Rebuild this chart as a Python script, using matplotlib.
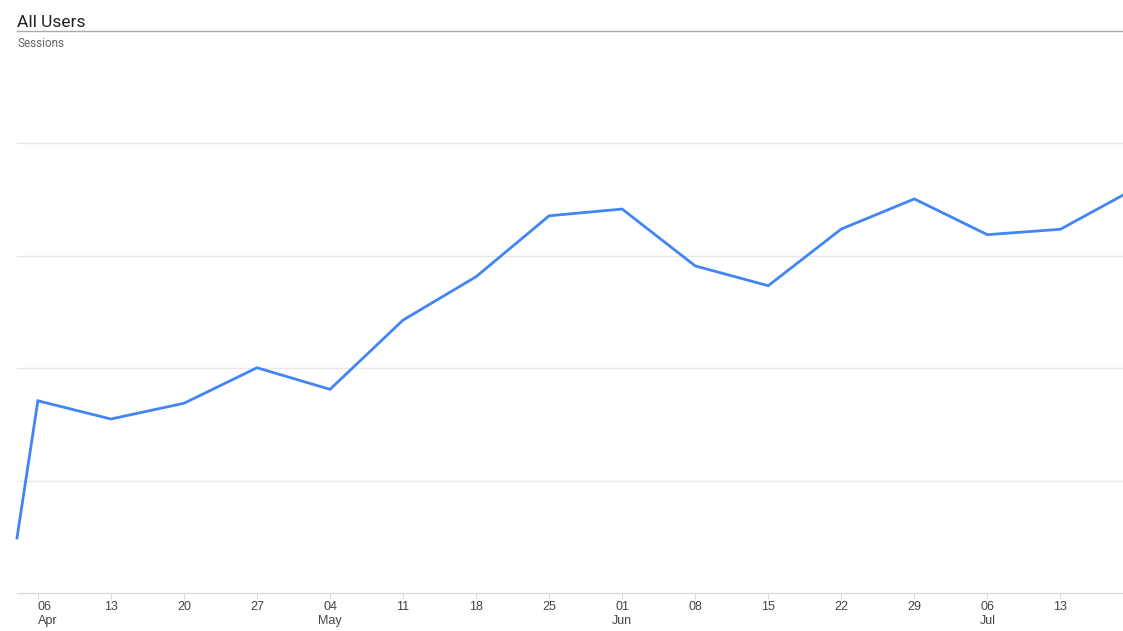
import matplotlib
matplotlib.use("Agg")
import matplotlib.pyplot as plt
import datetime as dt

dates = ["2014-04-04", "2014-04-06", "2014-04-13", "2014-04-20", "2014-04-27",
         "2014-05-04", "2014-05-11", "2014-05-18", "2014-05-25", "2014-06-01",
         "2014-06-08", "2014-06-15", "2014-06-22", "2014-06-29", "2014-07-06",
         "2014-07-13", "2014-07-19"]
sessions = [24.5, 85.5, 77.4, 84.4, 100.2, 90.6, 121.4, 140.7, 167.8, 170.8,
            145.5, 136.7, 161.9, 175.3, 159.4, 161.8, 177.0]
tick_dates = ["2014-04-06", "2014-04-13", "2014-04-20", "2014-04-27", "2014-05-04",
              "2014-05-11", "2014-05-18", "2014-05-25", "2014-06-01", "2014-06-08",
              "2014-06-15", "2014-06-22", "2014-06-29", "2014-07-06", "2014-07-13"]
tick_labels = ["06\nApr", "13", "20", "27", "04\nMay", "11", "18", "25", "01\nJun",
               "08", "15", "22", "29", "06\nJul", "13"]
title = "All Users"
metric = "Sessions"

plt.rcParams['font.family'] = ['Roboto', 'DejaVu Sans']

W, H = 1123, 631
fig = plt.figure(figsize=(W / 100, H / 100), dpi=100)
left, right, top, bottom = 17, 1123, 31, 593
ax = fig.add_axes([left / W, 1 - bottom / H, (right - left) / W, (bottom - top) / H])

x = [dt.datetime.strptime(d, "%Y-%m-%d") for d in dates]
xt = [dt.datetime.strptime(d, "%Y-%m-%d") for d in tick_dates]

ax.plot(x, sessions, color="#4285f4", lw=2, solid_joinstyle="miter", clip_on=False, zorder=3)
ax.set_xlim(x[0], x[-1])
ax.set_ylim(0, 250)
ax.set_yticks([50, 100, 150, 200])
ax.set_yticklabels([])
ax.tick_params(axis="y", length=0)
ax.grid(axis="y", color="#e8e8e8", lw=1)
ax.set_axisbelow(True)

ax.set_xticks(xt)
ax.set_xticklabels(tick_labels, fontsize=9, color="#444444", linespacing=1.15,
                   family=["Liberation Sans", "DejaVu Sans"])
ax.tick_params(axis="x", length=4, color="#dddddd", pad=2)
for i, lab in enumerate(ax.get_xticklabels()):
    lab.set_horizontalalignment("left" if i == 0 else "center")

for s in ["left", "right"]:
    ax.spines[s].set_visible(False)
ax.spines["bottom"].set_color("#dddddd")
ax.spines["bottom"].set_linewidth(1)
ax.spines["top"].set_color("#aaaaaa")
ax.spines["top"].set_linewidth(1.0)

fig.text(left / W, 1 - 27 / H, title, fontsize=12.5, color="#212121", ha="left", va="baseline")
fig.text(left / W, 1 - 47 / H, metric, fontsize=8.5, color="#666666", ha="left", va="baseline")

fig.savefig("out.png", dpi=100)
